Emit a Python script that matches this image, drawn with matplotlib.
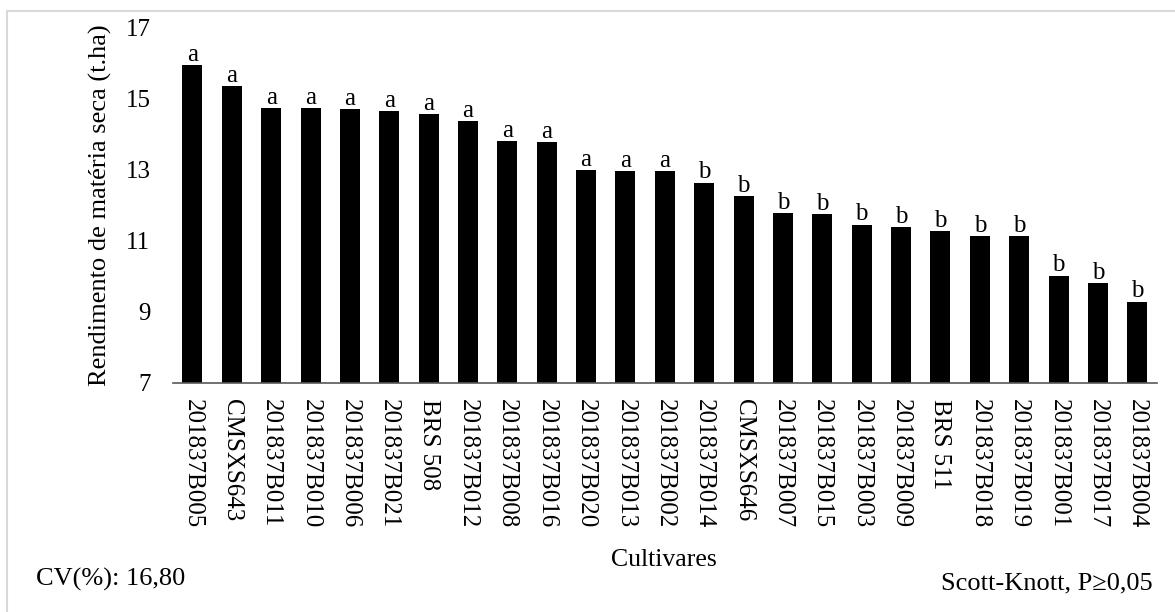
import matplotlib.pyplot as plt
from matplotlib.patches import Rectangle

cultivares = ["201837B005", "CMSXS643", "201837B011", "201837B010", "201837B006",
              "201837B021", "BRS 508", "201837B012", "201837B008", "201837B016",
              "201837B020", "201837B013", "201837B002", "201837B014", "CMSXS646",
              "201837B007", "201837B015", "201837B003", "201837B009", "BRS 511",
              "201837B018", "201837B019", "201837B001", "201837B017", "201837B004"]
rendimento = [15.94, 15.35, 14.72, 14.72, 14.71, 14.65, 14.55, 14.36, 13.79, 13.77,
              12.99, 12.96, 12.96, 12.63, 12.25, 11.77, 11.75, 11.45, 11.37, 11.27,
              11.13, 11.12, 10.01, 9.79, 9.28]
grupos = ["a"] * 13 + ["b"] * 12

plt.rcParams['font.family'] = ['Liberation Serif', 'DejaVu Serif']

fig = plt.figure(figsize=(11.75, 6.12), dpi=100)
ax = fig.add_axes([172.7 / 1175, 1 - 382.5 / 612, (1157 - 172.7) / 1175, 355 / 612])

x = range(len(cultivares))
ax.bar(x, rendimento, width=0.508, bottom=0, color='black')
for i, (v, g) in enumerate(zip(rendimento, grupos)):
    ax.text(i, v - 0.02, g, ha='center', va='bottom', fontsize=18)

ax.set_ylim(7, 17)
ax.set_xlim(-0.5, len(cultivares) - 0.5)
ax.set_yticks([7, 9, 11, 13, 15, 17])
ax.set_xticks(list(x))
ax.set_xticklabels(cultivares, rotation=270, fontsize=18)
ax.tick_params(axis='y', length=0, pad=16, labelsize=18)
ax.tick_params(axis='x', length=0, pad=12)
for s in ['top', 'right', 'left']:
    ax.spines[s].set_visible(False)
ax.spines['bottom'].set_color('#595959')
ax.spines['bottom'].set_linewidth(1.2)

ax.set_ylabel("Rendimento de matéria seca (t.ha)", fontsize=19, labelpad=10)

fig.text(664 / 1175, 1 - 560 / 612, "Cultivares", ha='center', va='center', fontsize=18.5)
fig.text(36 / 1175, 1 - 579 / 612, "CV(%): 16,80", ha='left', va='center', fontsize=19)
fig.text(1153 / 1175, 1 - 583 / 612, "Scott-Knott, P≥0,05", ha='right', va='center', fontsize=19)

fig.patches.append(Rectangle((7 / 1175, -0.05), 1.1, 1 - 11 / 612 + 0.05,
                             transform=fig.transFigure, fill=False,
                             edgecolor='#d9d9d9', linewidth=1.5))

fig.savefig("out.png", dpi=100)
